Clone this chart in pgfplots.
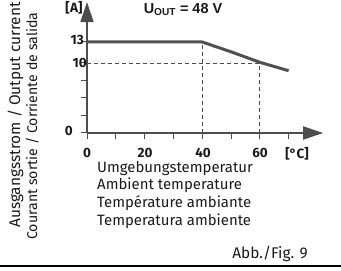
\documentclass[border=0pt]{standalone}
\usepackage{pgfplots}
\pgfplotsset{compat=1.18}
\usetikzlibrary{arrows.meta}
\usepackage{fontspec}
\setmainfont{Fira Sans}
\newfontfamily\arialfont{Liberation Sans}
\definecolor{axgray}{HTML}{4D4D4D}
\definecolor{curvegray}{HTML}{505050}
\definecolor{txt}{HTML}{1A1A1A}
\begin{document}
\begin{tikzpicture}[x=1bp,y=1bp]
\path[use as bounding box] (0,0) rectangle (341,271);
\begin{axis}[
  at={(87bp,138bp)}, anchor=origin,
  x=2.88bp, y=7bp,
  xmin=0, xmax=82, ymin=0, ymax=18.7,
  axis lines=left,
  axis line style={draw=axgray, line width=1.8bp, -{Triangle[length=20bp,width=13bp]}},
  xtick={0,10,...,70}, xticklabels={},
  ytick={0,2.5,5,7.5,10,13}, yticklabels={},
  tick align=outside, major tick length=6bp,
  tick style={draw=axgray, line width=1bp},
  clip=false,
]
\addplot[axgray, line width=0.9bp, dash pattern=on 4bp off 3bp] coordinates {(0,10) (60,10)};
\addplot[axgray, line width=0.9bp, dash pattern=on 4bp off 3bp] coordinates {(40,0) (40,13)};
\addplot[axgray, line width=0.9bp, dash pattern=on 4bp off 3bp] coordinates {(60,0) (60,10)};
\addplot[curvegray, line width=3bp] coordinates {(0,13) (40,13) (50,11.6) (60,10.1) (70,8.9)};
\end{axis}
\begin{scope}[every node/.style={text=txt, inner sep=0pt}]
\node[font=\fontsize{13.5}{15}\selectfont\bfseries] at (74,263) {[A]};
\node[font=\fontsize{14.5}{16}\selectfont\bfseries, anchor=base] at (183,257.7) {\arialfont U\textsubscript{OUT} = 48 V};
\node[font=\fontsize{13.5}{15}\selectfont\bfseries, anchor=east] at (84,231) {13};
\node[font=\fontsize{13.5}{15}\selectfont\bfseries, anchor=east] at (87,208) {10};
\node[font=\fontsize{13.5}{15}\selectfont\bfseries, anchor=east] at (73,140) {0};
\node[font=\fontsize{13.5}{15}\selectfont\bfseries] at (87,118.5) {0};
\node[font=\fontsize{13.5}{15}\selectfont\bfseries] at (145,118.5) {20};
\node[font=\fontsize{13.5}{15}\selectfont\bfseries] at (203,118.5) {40};
\node[font=\fontsize{13.5}{15}\selectfont\bfseries] at (260,118.5) {60};
\node[font=\fontsize{13.5}{15}\selectfont\bfseries] at (297,117) {[°C]};
\node[font=\fontsize{15}{17}\selectfont, anchor=base west] at (97,99) {Umgebungstemperatur};
\node[font=\fontsize{15}{17}\selectfont, anchor=base west] at (97,81.3) {Ambient temperature};
\node[font=\fontsize{15}{17}\selectfont, anchor=base west] at (97,63.7) {Température ambiante};
\node[font=\fontsize{15}{17}\selectfont, anchor=base west] at (97,46) {Temperatura ambiente};
\node[font=\fontsize{15.5}{17}\selectfont, anchor=base east] at (308,13) {Abb./Fig. 9};
\node[font=\fontsize{15.5}{17}\selectfont, anchor=base west, rotate=90] at (20,43) {Ausgangsstrom / Output current};
\node[font=\fontsize{14.2}{17}\selectfont, anchor=base west, rotate=90] at (37,31) {Courant sortie / Corriente de salida};
\end{scope}
\draw[black, line width=2.2bp] (0,5) -- (341,5);
\end{tikzpicture}
\end{document}
